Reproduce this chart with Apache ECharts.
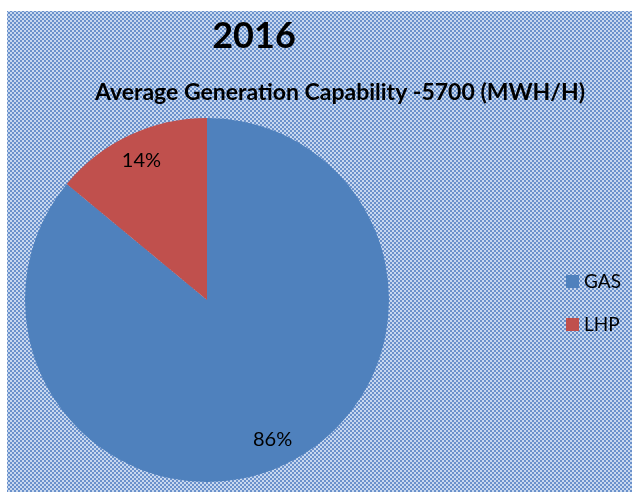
<!DOCTYPE html>
<html>
<head>
<meta charset="utf-8">
<script src="https://cdn.jsdelivr.net/npm/echarts@6/dist/echarts.min.js"></script>
<style>html,body{margin:0;padding:0;background:#fff}#c{width:632px;height:492px}</style>
</head>
<body>
<div id="c"></div>
<script>
var categories = ['GAS', 'LHP'];
var values = [86, 14];
var colors = ['#4f81bd', '#c0504d'];
var titleText = '2016';
var subtitleText = 'Average Generation Capability -5700 (MWH/H)';

// checker pattern for background
var pc = document.createElement('canvas');
pc.width = 4; pc.height = 4;
var ctx = pc.getContext('2d');
ctx.fillStyle = '#c8d8ef'; ctx.fillRect(0, 0, 4, 4);
ctx.fillStyle = '#6a91cb';
ctx.fillRect(0, 0, 2, 2); ctx.fillRect(2, 2, 2, 2);

var data = categories.map(function (c, i) {
  return { name: c, value: values[i], itemStyle: { color: colors[i] } };
});
var overlay = categories.map(function (c, i) {
  return { name: c, value: values[i] };
});

var chart = echarts.init(document.getElementById('c'));
chart.setOption({
  backgroundColor: '#ffffff',
  animation: false,
  graphic: [{
    type: 'rect', z: -10, silent: true,
    shape: { x: 7, y: 11, width: 625, height: 481 },
    style: { fill: { image: pc, repeat: 'repeat' } }
  }],
  title: [
    { text: titleText, left: 249, top: 13, textAlign: 'center',
      textStyle: { fontFamily: 'Lato', fontWeight: 'bold', fontSize: 36, color: '#000' } },
    { text: subtitleText, left: 335, top: 76, textAlign: 'center',
      textStyle: { fontFamily: 'Lato', fontWeight: 'bold', fontSize: 23, color: '#000' } }
  ],
  legend: {
    orient: 'vertical', left: 561, top: 267,
    itemWidth: 13, itemHeight: 13, itemGap: 24, icon: 'rect',
    data: categories,
    textStyle: { fontFamily: 'Lato', fontSize: 19, lineHeight: 19, color: '#000' }
  },
  series: [{
    type: 'pie', center: [207, 300], radius: 182, startAngle: 90, clockwise: true,
    data: data, label: { show: false }, labelLine: { show: false },
    itemStyle: { borderWidth: 0 }
  }, {
    type: 'pie', center: [207, 300], radius: [120, 182], startAngle: 90, clockwise: true,
    silent: true, legendHoverLink: false,
    data: overlay,
    itemStyle: { color: 'rgba(0,0,0,0)' },
    label: { show: true, position: 'inside', formatter: '{c}%',
      fontFamily: 'Lato', fontSize: 20, color: '#000' },
    labelLine: { show: false }
  }]
});
</script>
</body>
</html>
